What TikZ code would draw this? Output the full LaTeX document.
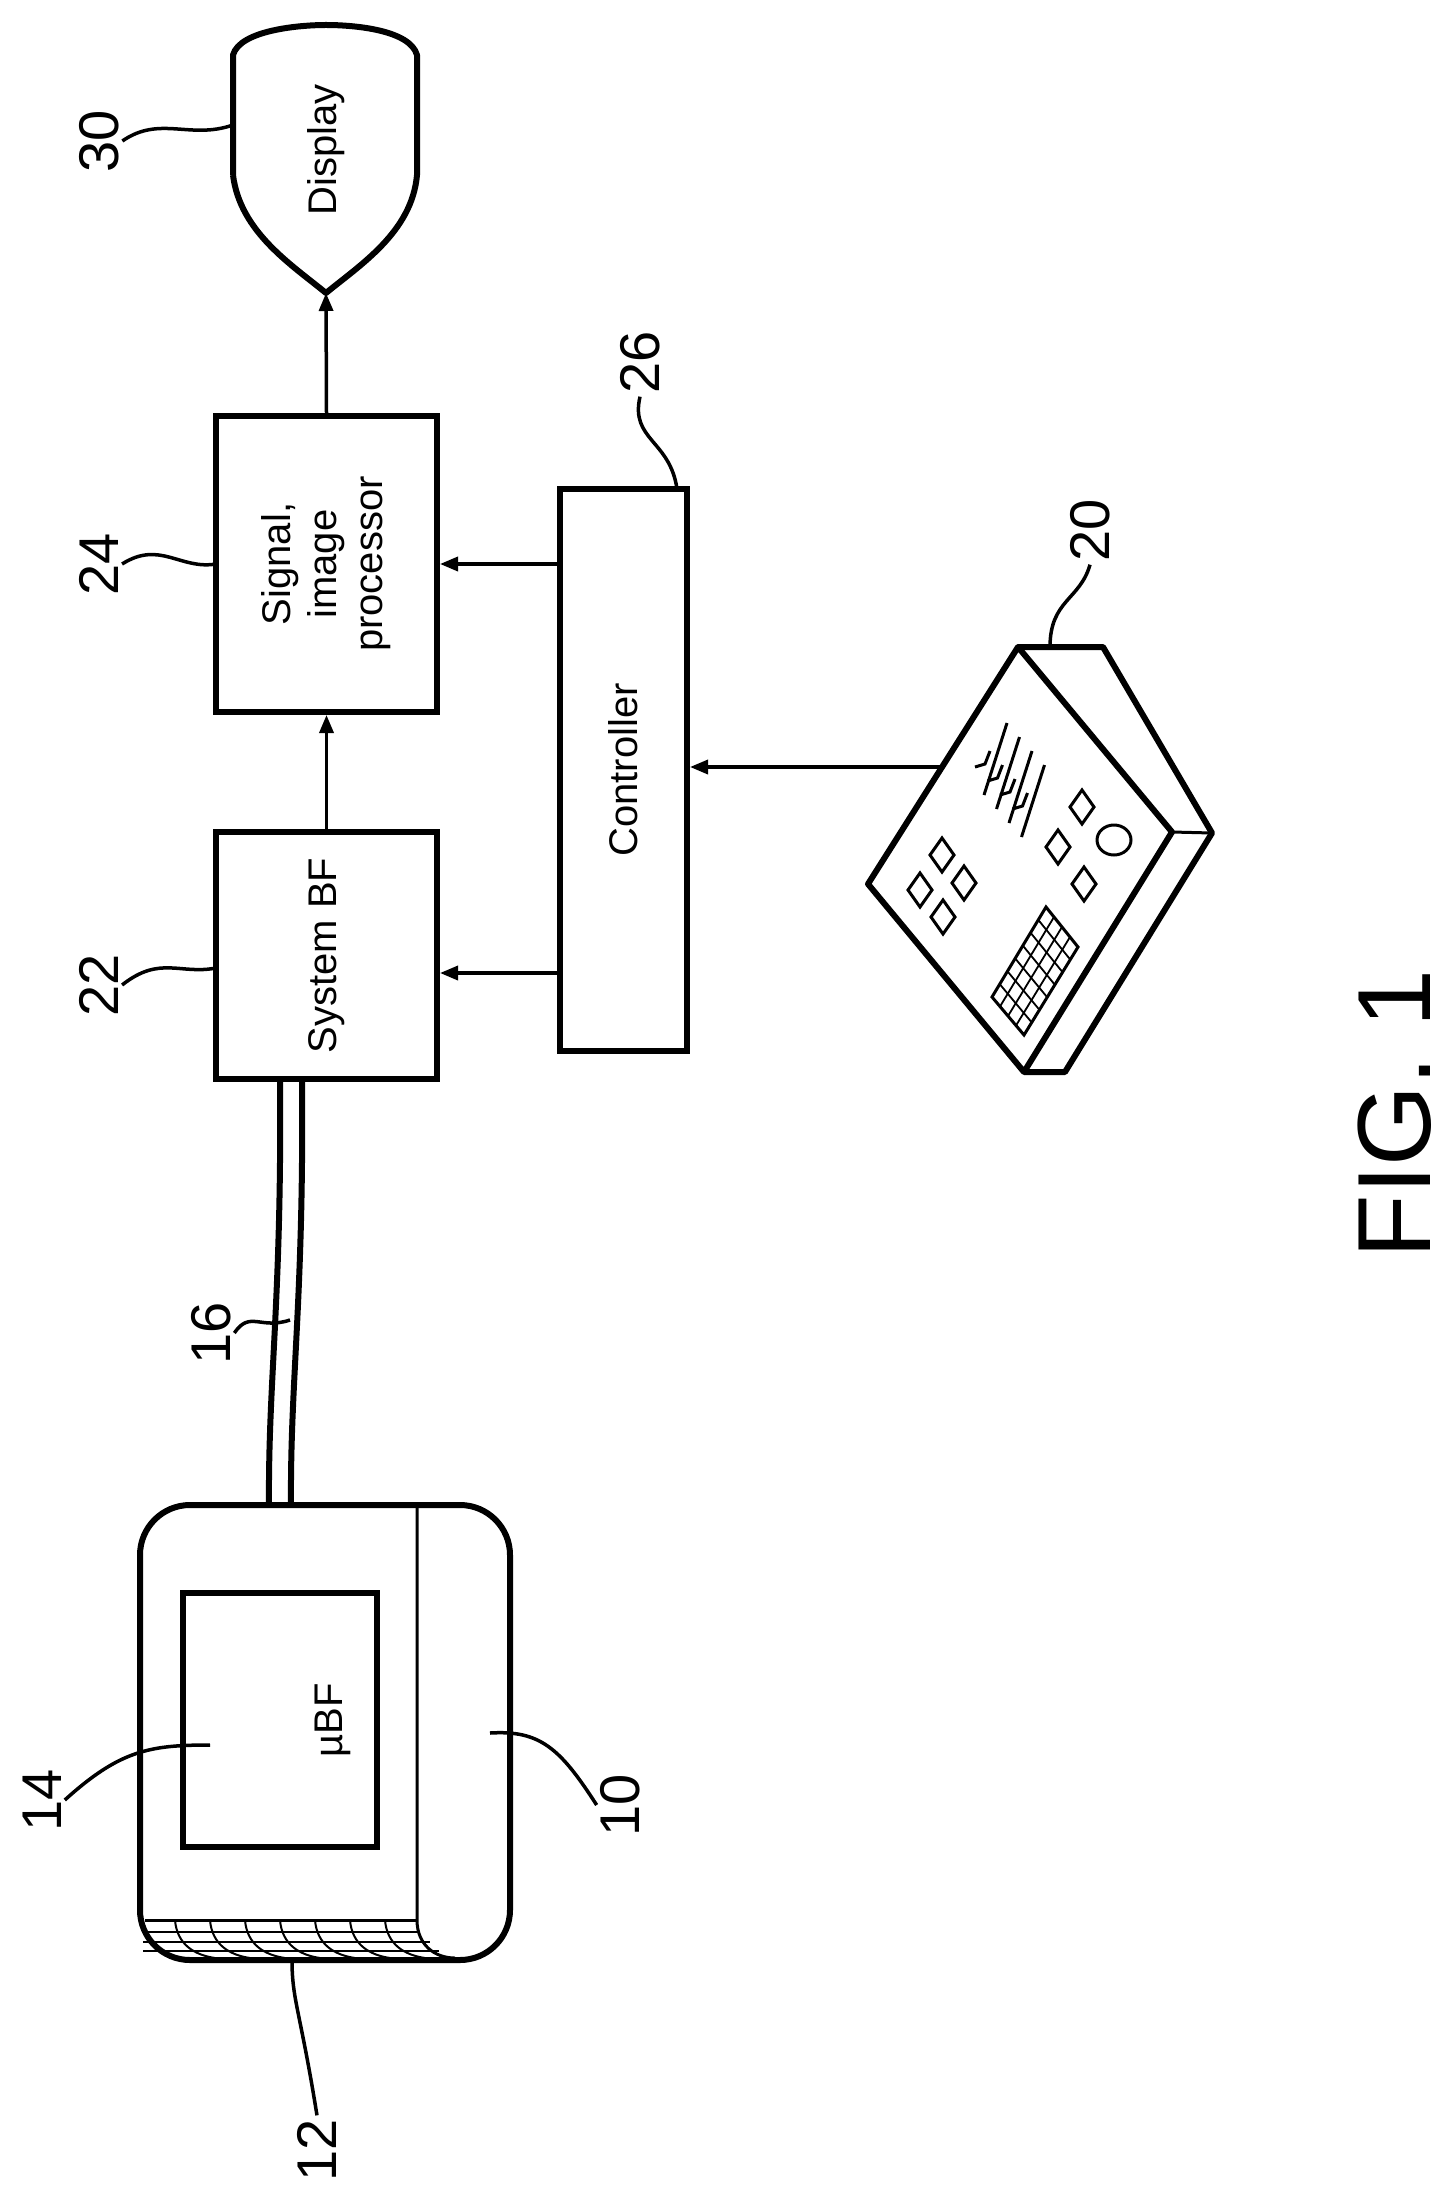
\documentclass[tikz,border=0pt]{standalone}
\usepackage{fontspec}
\setmainfont{Liberation Sans}
\usetikzlibrary{calc,arrows.meta}
\begin{document}
\begin{tikzpicture}[x=1pt,y=-1pt,
  ln/.style={line width=6pt,line join=round},
  thin/.style={line width=3pt},
  box/.style={draw,line width=6pt,rectangle},
  arr/.style={line width=3.5pt,-{Triangle[length=18pt,width=14pt]}},
  lbl/.style={font=\fontsize{56}{60}\selectfont,rotate=90},
  txt/.style={font=\fontsize{40}{46}\selectfont,rotate=90,align=center},
  lead/.style={line width=3.5pt}]
\useasboundingbox (0,0) rectangle (1452,2199);
% display
\draw[ln] (233,175) -- (233,55) .. controls (240,30) and (300,25) .. (326,25) .. controls (355,25) and (410,30) .. (417,55) -- (417,175) .. controls (412,232) and (360,265) .. (326,293) .. controls (292,265) and (240,232) .. (233,175);
\coordinate (disp) at (326,293);
\node[txt] at (326,150) {Display};
% boxes
\node[box,minimum width=221pt,minimum height=296pt] (b24) at (326.5,564) {};
\node[txt] at (b24) {Signal,\\image\\processor};
\node[box,minimum width=221pt,minimum height=247pt] (b22) at (326.5,955.5) {};
\node[txt] at (b22) {System BF};
\node[box,minimum width=127pt,minimum height=562pt] (b26) at (623.5,770) {};
\node[txt] at (b26) {Controller};
\draw[arr] (b24.north) -- (disp);
\draw[arr] (b22.north) -- (b24.south);
\draw[arr] (b26.west |- 0,564) -- (b24.east |- 0,564);
\draw[arr] (b26.west |- 0,973) -- (b22.east |- 0,973);
\coordinate (kb) at (940,767);
\draw[arr] (kb) -- (b26.east |- kb);
% keyboard
\draw[ln] (1018,647) -- (1172,832) -- (1024,1072) -- (868,884) -- cycle;
\draw[ln] (1018,647) -- (1103,647) -- (1212,833) -- (1065,1072) -- (1024,1072);
\draw[thin] (1172,832) -- (1212,833);
\foreach \c in {(942,855),(920,890),(964,883),(943,917),(1082,807),(1058,847),(1084,884)}{
  \draw[thin] \c ++(0,-17) -- ++(12,17) -- ++(-12,17) -- ++(-12,-17) -- cycle;}
\draw[thin] (1114,840) ellipse (17 and 15);
\foreach \i in {0,1,2,3}{
  \draw[thin] ($(1007,723)+(\i*12.5,\i*14)$) -- ++(-23,72);
  \draw[thin] ($(975,767)+(\i*12.5,\i*14)$) -- ++(10,-3) -- ++(5,-13);}
\coordinate (g1) at (1046,907); \coordinate (g2) at (1078,947);
\coordinate (g3) at (1024,1035); \coordinate (g4) at (992,997);
\draw[thin] (g1)--(g2)--(g3)--(g4)--cycle;
\foreach \t in {0.25,0.5,0.75}{\draw[line width=1.8pt] ($(g1)!\t!(g2)$) -- ($(g4)!\t!(g3)$);}
\foreach \t in {0.143,0.286,0.429,0.571,0.714,0.857}{\draw[line width=1.8pt] ($(g1)!\t!(g4)$) -- ($(g2)!\t!(g3)$);}
% probe
\draw[ln,rounded corners=50pt] (140,1505) rectangle (510,1960);
\draw[thin] (417,1507) -- (417,1920) .. controls (417,1945) and (435,1958) .. (455,1958);
\node[box,minimum width=194pt,minimum height=254pt] (b14) at (280,1720) {};
\node[txt] at (333,1720) {\textmu BF};
\draw[thin] (145,1920) -- (417,1920);
\foreach \y in {1932,1942,1951}{\draw[line width=2pt] (143,\y) -- (\y-1512,\y);}
\foreach \x in {175,210,245,280,315,350,385}{\draw[line width=2pt] (\x,1920) .. controls (\x+2,1945) and (\x+20,1955) .. (\x+40,1958);}
% cable
\draw[ln] (269,1505) .. controls (268,1380) and (282,1300) .. (280,1079);
\draw[ln] (291,1505) .. controls (290,1380) and (304,1300) .. (302,1079);
% labels
\node[lbl] (l30) at (99,141) {30};
\draw[lead] (l30.south) .. controls (160,115) and (190,140) .. (233,125);
\node[lbl] (l24) at (99,564) {24};
\draw[lead] (l24.south) .. controls (160,540) and (180,570) .. (216,564);
\node[lbl] (l22) at (99,985) {22};
\draw[lead] (l22.south) .. controls (160,955) and (180,975) .. (216,968);
\node[lbl] (l26) at (640,362) {26};
\draw[lead] (l26.west) .. controls (630,440) and (670,440) .. (677,489);
\node[lbl] (l20) at (1090,530) {20};
\draw[lead] (l20.west) .. controls (1080,600) and (1050,600) .. (1050,647);
\node[lbl] (l16) at (211,1333) {16};
\draw[lead] (l16.south) .. controls (250,1310) and (260,1330) .. (290,1320);
\node[lbl] (l14) at (42,1800) {14};
\draw[lead] (l14.south) .. controls (120,1750) and (150,1745) .. (210,1745);
\node[lbl] (l10) at (620,1805) {10};
\draw[lead] (490,1733) .. controls (540,1730) and (560,1748) .. (l10.north);
\node[lbl] (l12) at (317,2150) {12};
\draw[lead] (292,1960) .. controls (292,2000) and (300,2010) .. (l12.east);
\node[font=\fontsize{104}{110}\selectfont,rotate=90] at (1395,1114) {FIG. 1};
\end{tikzpicture}
\end{document}
